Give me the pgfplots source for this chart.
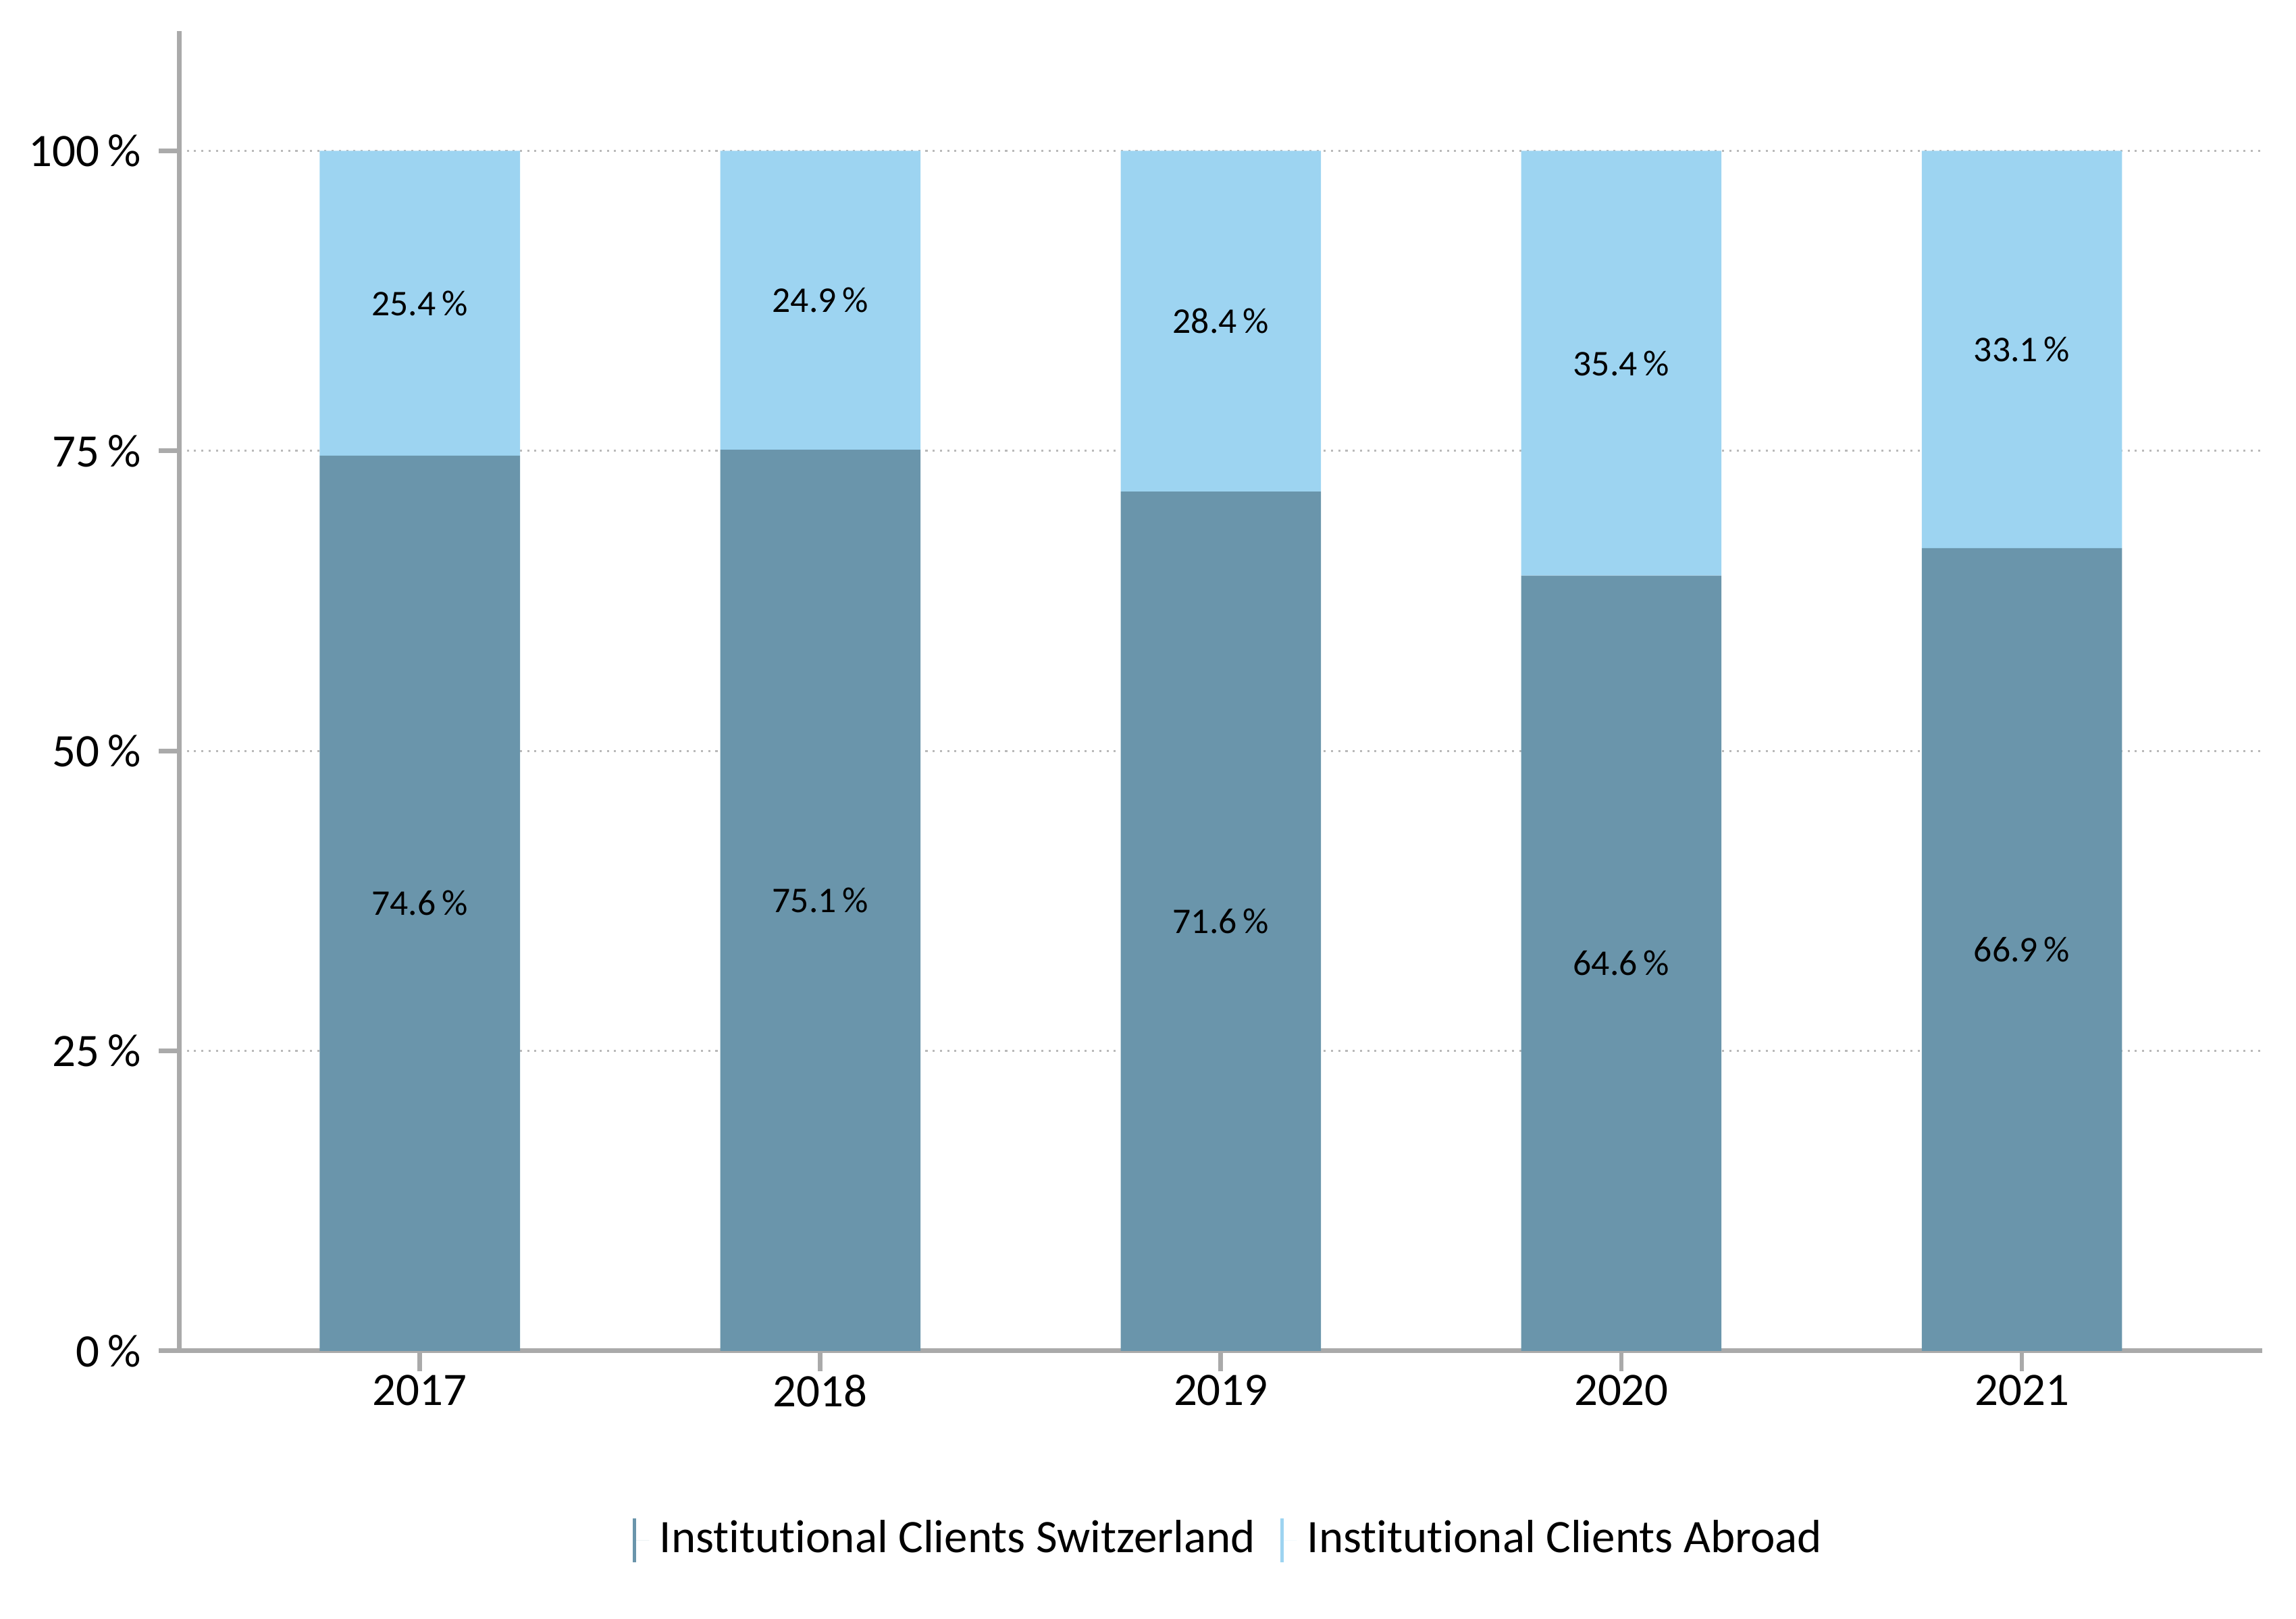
\documentclass[border=0pt]{standalone}
\usepackage{fontspec}
\setmainfont[Ligatures={NoCommon}]{Carlito}
\usepackage{pgfplots}
\pgfplotsset{compat=1.18}
\definecolor{chDark}{HTML}{6A95AB}
\definecolor{chLight}{HTML}{9DD4F1}
\definecolor{axisGray}{HTML}{AAAAAA}
\begin{document}
\begin{tikzpicture}
\path[use as bounding box] (-1.22,-1.82) rectangle (14.38,9.18);
\begin{axis}[
    scale only axis,
    width=14.15cm, height=8.97cm,
    ybar stacked, bar width=0.5,
    xmin=-0.6, xmax=4.6, ymin=0, ymax=110,
    xtick={0,1,2,3,4},
    xticklabels={2017,2018,2019,2020,2021},
    ytick={0,25,50,75,100},
    yticklabel={\pgfmathprintnumber{\tick}\,\%},
    /pgf/number format/assume math mode=true,
    axis lines=left,
    axis line style={-, draw=axisGray, line width=0.9pt},
    tick style={draw=axisGray, line width=0.9pt},
    tick align=outside, major tick length=0.14cm,
    ymajorgrids, grid style={densely dotted, draw=gray!55, line width=0.4pt},
    ticklabel style={font=\fontsize{9}{11}\selectfont},
    xticklabel style={yshift=0.1cm},
    visualization depends on=rawy \as \rawy,
    nodes near coords={\pgfmathprintnumber[fixed,fixed zerofill,precision=1]{\rawy}\,\%},
    every node near coord/.append style={anchor=center, black,
        font=\fontsize{7}{9}\selectfont},
    legend style={at={(0.5057,-0.1435)}, anchor=center, draw=none, fill=none,
        legend columns=2, font=\fontsize{9}{11}\selectfont,
        /tikz/every even column/.append style={column sep=0.1cm}},
    legend cell align=left,
]
% Institutional Clients Switzerland
\addplot[fill=chDark, draw=none,
    legend image code/.code={\draw[draw=chDark, line width=0.6pt] (0cm,-0.15cm) -- (0cm,0.15cm);
        \path (0cm,0cm) -- (0.1cm,0cm);}]
    coordinates {(0,74.6) (1,75.1) (2,71.6) (3,64.6) (4,66.9)};
\addlegendentry{Institutional Clients Switzerland}
% Institutional Clients Abroad
\addplot[fill=chLight, draw=none,
    legend image code/.code={\draw[draw=chLight, line width=0.6pt] (0cm,-0.15cm) -- (0cm,0.15cm);
        \path (0cm,0cm) -- (0.1cm,0cm);}]
    coordinates {(0,25.4) (1,24.9) (2,28.4) (3,35.4) (4,33.1)};
\addlegendentry{Institutional Clients Abroad}
\end{axis}
\end{tikzpicture}
\end{document}
